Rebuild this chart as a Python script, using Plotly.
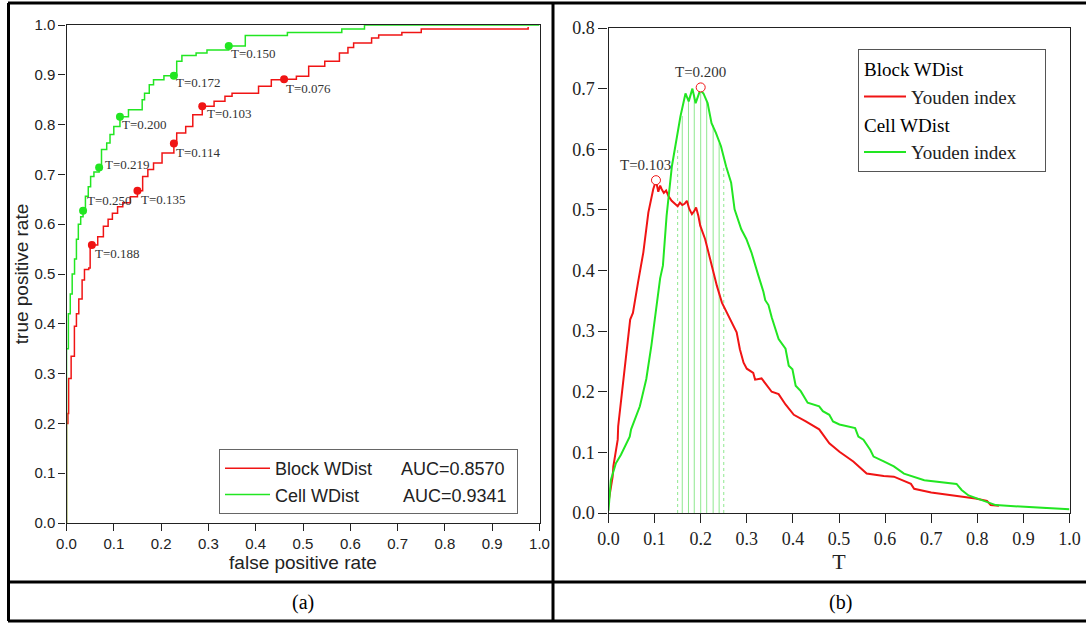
import plotly.graph_objects as go

W, H = 1086, 624

# ---------------- data: ROC curves (panel a) ----------------
cell_fpr = [0, 0, 0.004, 0.008, 0.012, 0.017, 0.021, 0.025, 0.030, 0.035, 0.040, 0.046, 0.051,
            0.058, 0.069, 0.074, 0.085, 0.092, 0.100, 0.113, 0.131, 0.153, 0.160, 0.165, 0.175,
            0.184, 0.206, 0.227, 0.233, 0.244, 0.274, 0.297, 0.343, 0.372, 0.378, 0.463, 0.467,
            0.580, 0.582, 0.630, 0.630, 1.0]
cell_tpr = [0, 0.35, 0.42, 0.46, 0.50, 0.53, 0.57, 0.60, 0.615, 0.627, 0.656, 0.675, 0.696,
            0.705, 0.714, 0.75, 0.763, 0.78, 0.796, 0.816, 0.83, 0.83, 0.85, 0.863, 0.88,
            0.89, 0.898, 0.899, 0.927, 0.939, 0.944, 0.950, 0.958, 0.958, 0.979, 0.979, 0.985,
            0.985, 0.992, 0.992, 1.0, 1.0]

block_fpr = [0, 0, 0.003, 0.003, 0.0045, 0.0098, 0.0167, 0.021, 0.026, 0.033, 0.038, 0.047,
             0.050, 0.061, 0.066, 0.078, 0.088, 0.097, 0.108, 0.119, 0.135, 0.150, 0.161,
             0.172, 0.184, 0.202, 0.227, 0.233, 0.252, 0.267, 0.287, 0.312, 0.335, 0.350,
             0.403, 0.406, 0.433, 0.460, 0.486, 0.512, 0.546, 0.577, 0.595, 0.607, 0.645,
             0.660, 0.709, 0.750, 0.976, 0.976]
block_tpr = [0, 0.20, 0.20, 0.22, 0.29, 0.335, 0.395, 0.42, 0.45, 0.488, 0.509, 0.512,
             0.558, 0.558, 0.575, 0.596, 0.61, 0.622, 0.635, 0.643, 0.655, 0.667, 0.696,
             0.71, 0.723, 0.743, 0.762, 0.783, 0.796, 0.820, 0.837, 0.847, 0.857, 0.863,
             0.863, 0.877, 0.890, 0.891, 0.897, 0.917, 0.927, 0.944, 0.955, 0.964, 0.974,
             0.980, 0.985, 0.992, 0.992, 0.996]

# threshold points marked on ROC curves
cell_pts_fpr = [0.343, 0.227, 0.113, 0.069, 0.035]
cell_pts_tpr = [0.958, 0.898, 0.816, 0.714, 0.627]
cell_pts_lab = ["T=0.150", "T=0.172", "T=0.200", "T=0.219", "T=0.250"]
block_pts_fpr = [0.460, 0.287, 0.227, 0.150, 0.0536]
block_pts_tpr = [0.891, 0.837, 0.762, 0.667, 0.558]
block_pts_lab = ["T=0.076", "T=0.103", "T=0.114", "T=0.135", "T=0.188"]

auc_block = "0.8570"
auc_cell = "0.9341"

# ---------------- data: Youden index (panel b) ----------------
block_T = [0, 0.003, 0.009, 0.0105, 0.02, 0.021, 0.031, 0.042, 0.047, 0.053, 0.0575, 0.064,
           0.0756, 0.0865, 0.097, 0.103, 0.108, 0.112, 0.1155, 0.12, 0.125, 0.13, 0.137, 0.144,
           0.15, 0.155, 0.16, 0.165, 0.17, 0.175, 0.181, 0.186, 0.19, 0.195, 0.199, 0.2095,
           0.217, 0.2276, 0.235, 0.246, 0.26, 0.278, 0.285, 0.293, 0.30, 0.314, 0.318, 0.332,
           0.354, 0.369, 0.384, 0.402, 0.428, 0.457, 0.479, 0.501, 0.531, 0.56, 0.597, 0.619,
           0.656, 0.663, 0.70, 0.751, 0.796, 0.821, 0.829, 0.847]
block_J = [0.018, 0.033, 0.06, 0.077, 0.121, 0.143, 0.21, 0.276, 0.319, 0.33, 0.352, 0.38,
           0.43, 0.496, 0.534, 0.548, 0.53, 0.54, 0.534, 0.528, 0.532, 0.523, 0.515, 0.51,
           0.506, 0.512, 0.508, 0.51, 0.515, 0.502, 0.493, 0.498, 0.504, 0.49, 0.474, 0.452,
           0.429, 0.397, 0.375, 0.347, 0.325, 0.298, 0.27, 0.248, 0.238, 0.231, 0.22, 0.222,
           0.20, 0.196, 0.179, 0.162, 0.151, 0.138, 0.115, 0.101, 0.085, 0.065, 0.061, 0.06,
           0.048, 0.04, 0.034, 0.029, 0.024, 0.02, 0.013, 0.012]

cell_T = [0, 0.005, 0.016, 0.027, 0.046, 0.049, 0.068, 0.082, 0.093, 0.104, 0.112, 0.118,
          0.126, 0.1375, 0.145, 0.156, 0.167, 0.174, 0.182, 0.189, 0.199, 0.206, 0.215,
          0.2235, 0.233, 0.244, 0.255, 0.266, 0.2735, 0.288, 0.299, 0.31, 0.325, 0.336, 0.34,
          0.347, 0.354, 0.369, 0.384, 0.391, 0.399, 0.406, 0.417, 0.432, 0.457, 0.465, 0.479,
          0.487, 0.501, 0.535, 0.542, 0.553, 0.568, 0.575, 0.597, 0.619, 0.641, 0.663, 0.685,
          0.755, 0.766, 0.781, 0.825, 0.84, 1.0]
cell_J = [0.004, 0.054, 0.082, 0.096, 0.126, 0.138, 0.176, 0.221, 0.276, 0.343, 0.387, 0.408,
          0.49, 0.572, 0.605, 0.654, 0.692, 0.679, 0.70, 0.676, 0.698, 0.692, 0.676,
          0.643, 0.627, 0.605, 0.572, 0.545, 0.501, 0.468, 0.452, 0.43, 0.392, 0.365, 0.351,
          0.343, 0.323, 0.287, 0.271, 0.243, 0.237, 0.21, 0.201, 0.182, 0.176, 0.168, 0.162,
          0.151, 0.146, 0.14, 0.126, 0.121, 0.104, 0.093, 0.085, 0.077, 0.065, 0.059, 0.054,
          0.048, 0.038, 0.029, 0.018, 0.013, 0.006]

# maxima of the Youden index
block_max = (0.103, 0.549, "T=0.103")
cell_max = (0.200, 0.702, "T=0.200")

# thresholds drawn as vertical guide lines (and Youden value reached)
guide_T = [0.150, 0.160, 0.1735, 0.186, 0.200, 0.213, 0.227, 0.240, 0.250]
guide_J = [0.600, 0.655, 0.685, 0.690, 0.700, 0.680, 0.640, 0.610, 0.572]

# ---------------- styling ----------------
RED = "#f01414"
GREEN = "#22e622"
LGREEN = "#8fe88f"
SANS = "Liberation Sans, Arial, sans-serif"
SERIF = "Liberation Serif, Times New Roman, serif"
NB = "&nbsp;"


def px_x(p):
    return p / W


def px_y(p):
    return 1 - p / H


fig = go.Figure()

# ---- panel (a) ----
fig.add_trace(go.Scatter(x=block_fpr, y=block_tpr, mode="lines", line=dict(color=RED, width=1.5, shape="hv"),
                         name="Block WDist" + NB * 5 + " AUC=" + auc_block + NB,
                         xaxis="x", yaxis="y", legend="legend"))
fig.add_trace(go.Scatter(x=cell_fpr, y=cell_tpr, mode="lines", line=dict(color=GREEN, width=1.5, shape="hv"),
                         name="Cell WDist" + NB * 8 + " AUC=" + auc_cell + NB,
                         xaxis="x", yaxis="y", legend="legend"))
fig.add_trace(go.Scatter(x=cell_pts_fpr, y=cell_pts_tpr, mode="markers",
                         marker=dict(color=GREEN, size=8), showlegend=False, xaxis="x", yaxis="y"))
fig.add_trace(go.Scatter(x=block_pts_fpr, y=block_pts_tpr, mode="markers",
                         marker=dict(color=RED, size=8), showlegend=False, xaxis="x", yaxis="y"))

annotations = []
cell_shifts = [(0, -8), (0, -7), (0, -8), (4, 3), (2, 10)]
block_shifts = [(0, -9), (3, -7), (0, -9), (2, -9), (1, -8)]
for xs, ys, labs, shifts in [(cell_pts_fpr, cell_pts_tpr, cell_pts_lab, cell_shifts),
                             (block_pts_fpr, block_pts_tpr, block_pts_lab, block_shifts)]:
    for xv, yv, lab, (dx, dy) in zip(xs, ys, labs, shifts):
        annotations.append(dict(x=xv, y=yv, xref="x", yref="y", text=lab, showarrow=False,
                                xanchor="left", yanchor="middle", xshift=dx, yshift=dy,
                                font=dict(family=SERIF, size=13, color="#333333")))

# ---- panel (b) ----
for t, j in zip(guide_T, guide_J):
    outer = t in (guide_T[0], guide_T[-1])
    fig.add_trace(go.Scatter(x=[t, t], y=[0, j], mode="lines",
                             line=dict(color=LGREEN, width=1, dash="dot" if outer else "solid"),
                             showlegend=False, hoverinfo="skip", xaxis="x2", yaxis="y2"))

fig.add_trace(go.Scatter(x=block_T, y=block_J, mode="lines", line=dict(color=RED, width=2),
                         name="Youden index" + NB * 5, legendgroup="block",
                         legendgrouptitle=dict(text="Block WDist", font=dict(family=SERIF, size=19, color="black")),
                         xaxis="x2", yaxis="y2", legend="legend2"))
fig.add_trace(go.Scatter(x=cell_T, y=cell_J, mode="lines", line=dict(color=GREEN, width=2),
                         name="Youden index" + NB * 5, legendgroup="cell",
                         legendgrouptitle=dict(text="Cell WDist", font=dict(family=SERIF, size=19, color="black")),
                         xaxis="x2", yaxis="y2", legend="legend2"))
fig.add_trace(go.Scatter(x=[block_max[0]], y=[block_max[1]], mode="markers",
                         marker=dict(color="white", size=9, line=dict(color=RED, width=1)),
                         showlegend=False, xaxis="x2", yaxis="y2"))
fig.add_trace(go.Scatter(x=[cell_max[0]], y=[cell_max[1]], mode="markers",
                         marker=dict(color="white", size=9, line=dict(color=RED, width=1)),
                         showlegend=False, xaxis="x2", yaxis="y2"))
annotations.append(dict(x=block_max[0], y=block_max[1], xref="x2", yref="y2", text=block_max[2],
                        showarrow=False, xanchor="center", yanchor="bottom", xshift=-10, yshift=5,
                        font=dict(family=SERIF, size=15, color="#333333")))
annotations.append(dict(x=cell_max[0], y=cell_max[1], xref="x2", yref="y2", text=cell_max[2],
                        showarrow=False, xanchor="center", yanchor="bottom", xshift=0, yshift=5,
                        font=dict(family=SERIF, size=15, color="#333333")))

# captions
annotations.append(dict(x=px_x(303), y=px_y(602), xref="paper", yref="paper", text="(a)", showarrow=False,
                        xanchor="center", yanchor="middle", font=dict(family=SERIF, size=20, color="black")))
annotations.append(dict(x=px_x(840), y=px_y(602), xref="paper", yref="paper", text="(b)", showarrow=False,
                        xanchor="center", yanchor="middle", font=dict(family=SERIF, size=20, color="black")))

# table border lines
shapes = []
BL = dict(color="black", width=3)
for (x0, y0, x1, y1) in [(8, 3, 1086, 3), (8.5, 3, 8.5, 621), (553, 3, 553, 621),
                         (8, 582, 1086, 582), (8, 621, 1086, 621)]:
    shapes.append(dict(type="line", xref="paper", yref="paper", x0=px_x(x0), y0=px_y(y0),
                       x1=px_x(x1), y1=px_y(y1), line=BL))

ax_common = dict(showline=True, mirror=True, linecolor="#222222", linewidth=1.3, ticks="outside",
                 tickcolor="#222222", tickwidth=1.3, showgrid=False, zeroline=False, tickformat=".1f",
                 automargin=False)

fig.update_layout(
    width=W, height=H, autosize=False,
    margin=dict(l=0, r=0, t=0, b=0),
    paper_bgcolor="white", plot_bgcolor="white",
    xaxis=dict(**ax_common, domain=[px_x(66.5), px_x(539.5)], range=[0, 1], dtick=0.1, ticklen=7,
               tickfont=dict(family=SANS, size=15, color="#222"),
               title=dict(text="false positive rate", font=dict(family=SANS, size=19, color="#222"), standoff=0),
               anchor="y"),
    yaxis=dict(**ax_common, domain=[px_y(523), px_y(25)], range=[0, 1], dtick=0.1, ticklen=7,
               tickfont=dict(family=SANS, size=15, color="#222"),
               title=dict(text="true positive rate", font=dict(family=SANS, size=19, color="#222"), standoff=0),
               anchor="x"),
    xaxis2=dict(**ax_common, domain=[px_x(608.5), px_x(1069.5)], range=[0, 1], dtick=0.1, ticklen=9,
                tickfont=dict(family=SERIF, size=18, color="#222"),
                title=dict(text="T", font=dict(family=SERIF, size=22, color="#222"), standoff=0),
                anchor="y2"),
    yaxis2=dict(**ax_common, domain=[px_y(513), px_y(28)], range=[0, 0.8], dtick=0.1, ticklen=9,
                tickfont=dict(family=SERIF, size=18, color="#222"), anchor="x2"),
    legend=dict(x=px_x(219), y=px_y(449), xanchor="left", yanchor="top", bgcolor="white",
                bordercolor="#666666", borderwidth=1, font=dict(family=SANS, size=18, color="#222"),
                itemwidth=45, tracegroupgap=0),
    legend2=dict(x=px_x(858), y=px_y(49), xanchor="left", yanchor="top", bgcolor="white",
                 bordercolor="#555555", borderwidth=1, font=dict(family=SERIF, size=19, color="#222"),
                 itemwidth=42, tracegroupgap=0, grouptitlefont=dict(family=SERIF, size=19, color="#222")),
    annotations=annotations,
    shapes=shapes,
    showlegend=True,
)

fig.write_html("out.html")
